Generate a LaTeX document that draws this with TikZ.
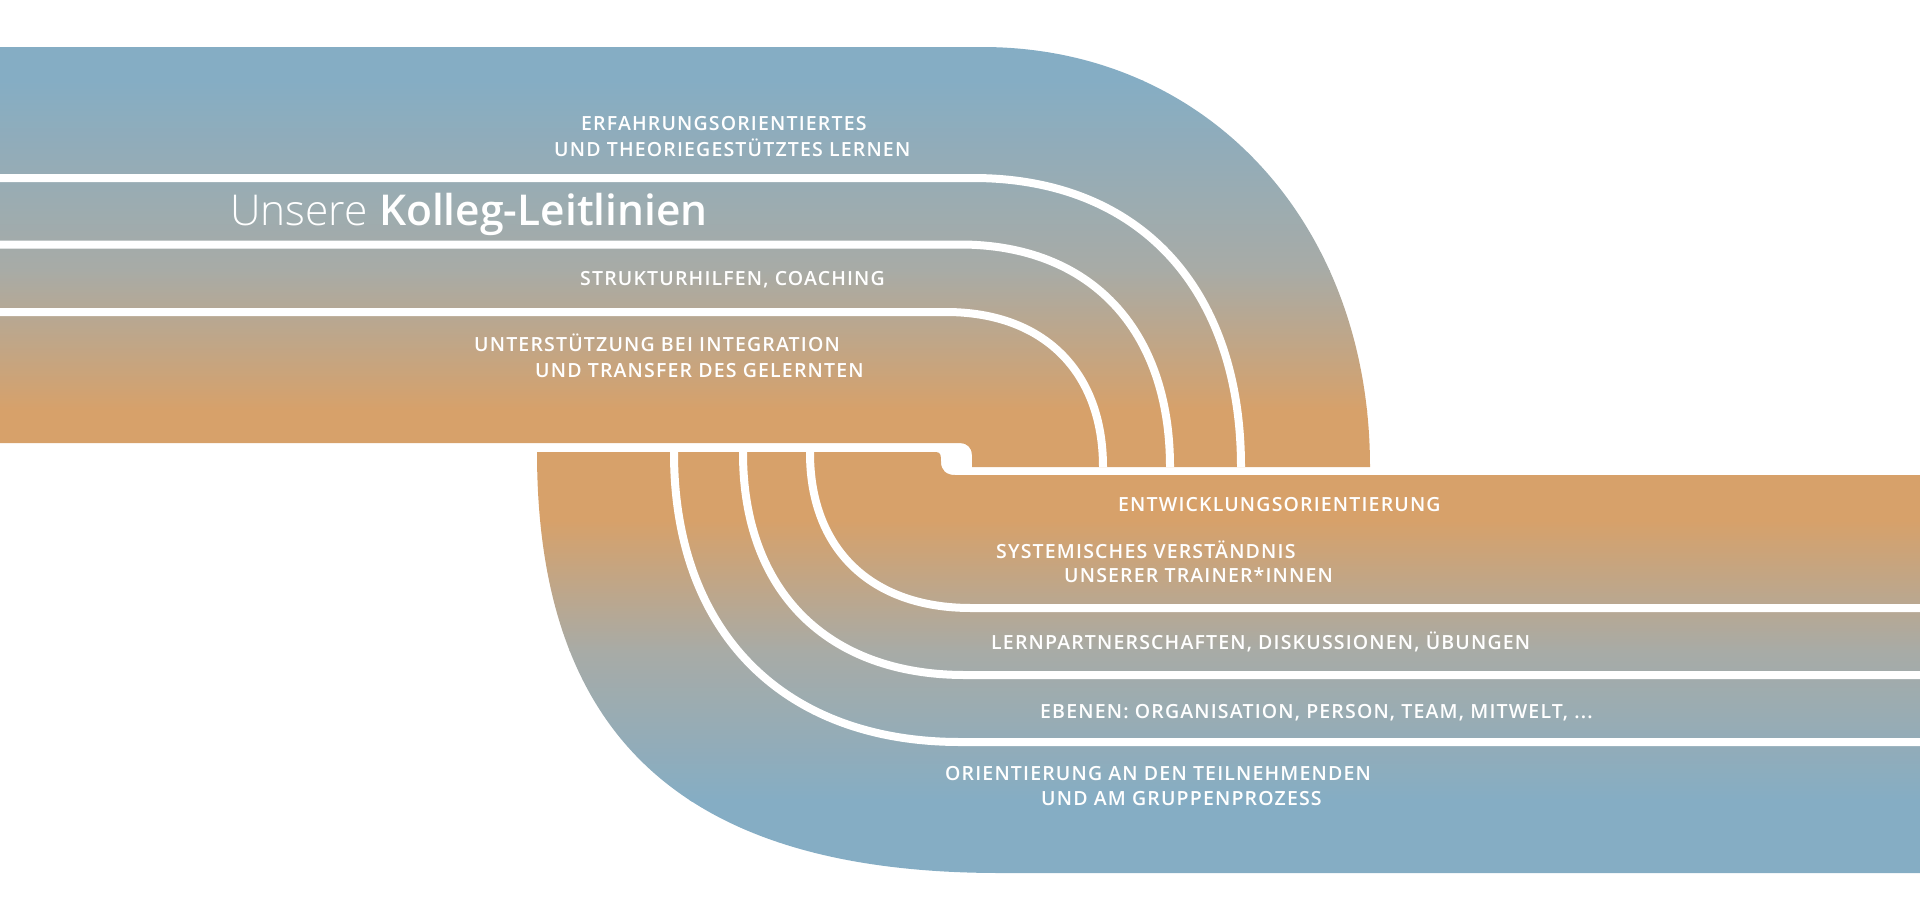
\documentclass[tikz,border=0pt]{standalone}
\usepackage{fontspec}
\setmainfont{Open Sans}
\IfFontExistsTF{Open Sans Light}{\newfontfamily\lightfont{Open Sans Light}}{\newfontfamily\lightfont{Open Sans}}
\IfFontExistsTF{Open Sans Semibold}{\newfontfamily\semifont{Open Sans Semibold}\newfontfamily\labfont[LetterSpace=6]{Open Sans Semibold}}{\newfontfamily\semifont{Open Sans}\newfontfamily\labfont[LetterSpace=9]{Open Sans}}
\definecolor{kblue}{RGB}{133,173,196}
\definecolor{kgray}{RGB}{168,171,166}
\definecolor{korange}{RGB}{215,161,106}
\begin{document}
\begin{tikzpicture}[x=1bp,y=-1bp,
  sepline/.style={draw=white, line width=8bp},
  lab/.style={anchor=base west, inner sep=0pt, text=white, font=\labfont\fontsize{19.5bp}{22bp}\selectfont}]
\useasboundingbox (0,0) rectangle (1920,915);
% upper band
\begin{scope}
\clip (-2,47) -- (982,47) .. controls (1207,47) and (1370,223) .. (1370,467) -- (972,467) -- (972,455) .. controls (972,448) and (967,443) .. (960,443) -- (-2,443) -- cycle;
\fill[kblue] (-5,40) rectangle (1925,81);
\shade[top color=kblue, bottom color=kgray] (-5,80) rectangle (1925,271);
\shade[top color=kgray, bottom color=korange] (-5,270) rectangle (1925,411);
\fill[korange] (-5,410) rectangle (1925,480);
\draw[sepline] (-5,178) -- (973,178) .. controls (1139,178) and (1241,288) .. (1241,467) -- (1241,478);
\draw[sepline] (-5,244.5) -- (960,244.5) .. controls (1090,244.5) and (1170,329) .. (1170,467) -- (1170,478);
\draw[sepline] (-5,312) -- (946,312) .. controls (1043,312) and (1103,371) .. (1103,467) -- (1103,478);
\end{scope}
% lower band
\begin{scope}
\clip (537,452) -- (936,452) .. controls (941,452) and (941,456) .. (941,462) .. controls (941,470) and (946,475) .. (955,475) -- (1922,475) -- (1922,873) -- (1000,873) .. controls (685,873) and (537,738) .. (537,452) -- cycle;
\fill[korange] (530,440) rectangle (1925,521);
\shade[top color=korange, bottom color=kgray] (530,520) rectangle (1925,651);
\shade[top color=kgray, bottom color=kblue] (530,650) rectangle (1925,801);
\fill[kblue] (530,800) rectangle (1925,880);
\draw[sepline] (810,440) -- (810,453) .. controls (810,549) and (871,608) .. (971,608) -- (1925,608);
\draw[sepline] (743,440) -- (743,453) .. controls (743,591) and (827,675) .. (965,675) -- (1925,675);
\draw[sepline] (674,440) -- (674,453) .. controls (674,632) and (783,742) .. (960,742) -- (1925,742);
\end{scope}
% texts
\node[lab] (t1) at (581,130) {ERFAHRUNGSORIENTIERTES};
\node[lab] (t2) at (554,156) {UND THEORIEGESTÜTZTES LERNEN};
\node[anchor=base west, inner sep=0pt, text=white, font=\fontsize{42.5bp}{48bp}\selectfont] (title) at (230,225) {{\lightfont Unsere} {\semifont Kolleg-Leitlinien}};
\node[lab] (t4) at (580,285) {STRUKTURHILFEN, COACHING};
\node[lab] (t5) at (474,351.5) {UNTERSTÜTZUNG BEI INTEGRATION};
\node[lab] (t6) at (535,377) {UND TRANSFER DES GELERNTEN};
\node[lab] (t7) at (1118,511.5) {ENTWICKLUNGSORIENTIERUNG};
\node[lab] (t8) at (996,558) {SYSTEMISCHES VERSTÄNDNIS};
\node[lab] (t9) at (1064,582.5) {UNSERER TRAINER*INNEN};
\node[lab] (t10) at (991,649) {LERNPARTNERSCHAFTEN, DISKUSSIONEN, ÜBUNGEN};
\node[lab] (t11) at (1040,718) {EBENEN: ORGANISATION, PERSON, TEAM, MITWELT, ...};
\node[lab] (t12) at (945,780) {ORIENTIERUNG AN DEN TEILNEHMENDEN};
\node[lab] (t13) at (1041,805) {UND AM GRUPPENPROZESS};
\end{tikzpicture}
\end{document}
